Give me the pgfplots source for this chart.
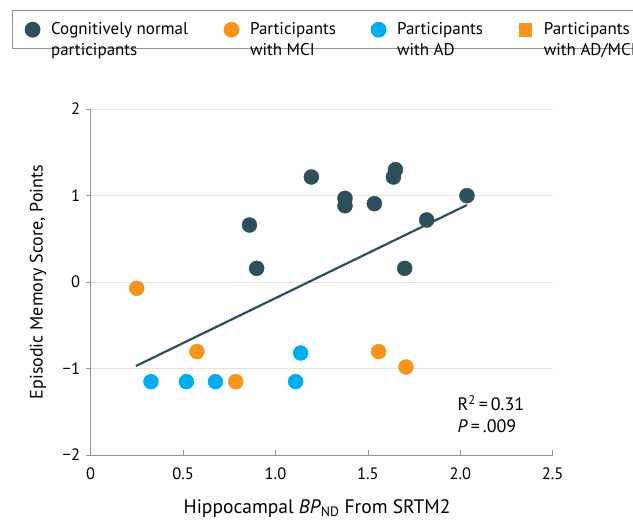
\documentclass[border=0pt]{standalone}
\usepackage{fontspec}
\setmainfont{PT Sans}
\usepackage{pgfplots}
\pgfplotsset{compat=1.18}
\usetikzlibrary{calc}
\definecolor{cn}{HTML}{2D4F5C}
\definecolor{mci}{HTML}{F7941D}
\definecolor{ad}{HTML}{00AEEF}
\begin{document}
\fontsize{16.5bp}{19bp}\selectfont
\begin{tikzpicture}
\begin{axis}[
  scale only axis,
  width=462bp, height=346bp,
  xmin=0, xmax=2.5, ymin=-2, ymax=2,
  axis lines*=left,
  axis line style={draw=gray!85, line width=0.8bp},
  xtick={0,0.5,1,1.5,2,2.5},
  xticklabels={0,0.5,1.0,1.5,2.0,2.5},
  ytick={-2,-1,0,1,2},
  yticklabels={−2,−1,0,1,2},
  tick align=outside,
  major tick length=5bp,
  tick style={draw=gray!85, line width=0.8bp},
  xtick style={yshift=5bp},
  x tick label style={yshift=-2bp},
  ymajorgrids,
  grid style={draw=gray!22, line width=0.8bp},
  xlabel={Hippocampal \textit{BP}\textsubscript{ND} From SRTM2},
  ylabel={Episodic Memory Score, Points},
  xlabel style={at={(axis description cs:0.49,-0.155)}, anchor=center, font=\fontsize{19.5bp}{22bp}\selectfont},
  ylabel style={at={(axis description cs:-0.114,0.5)}, anchor=center, font=\fontsize{18bp}{21bp}\selectfont},
  legend columns=4,
  legend image code/.code={\path (0bp,0bp) (14bp,0bp); \draw[#1] plot coordinates {(7bp,5bp)};},
  legend style={at={(-0.171,1.2852)}, anchor=north west, draw=gray!85, line width=0.8bp,
    font=\fontsize{17bp}{21bp}\selectfont,
    nodes={inner sep=0bp},
    cells={anchor=base west},
    /tikz/every odd column/.append style={column sep=11bp},
    /tikz/every even column/.append style={column sep=0bp},
    inner xsep=13bp, inner ysep=11.5bp},
]
\addplot[only marks, mark=*, mark size=7.5bp, color=cn, mark options={draw=none, fill=cn}] coordinates {
(0.859,0.659) (0.898,0.158) (1.194,1.214) (1.376,0.967) (1.376,0.882)
(1.535,0.906) (1.638,1.214) (1.649,1.299) (1.699,0.158) (1.818,0.717) (2.036,0.998)};
\addlegendentry{\parbox[t]{173bp}{Cognitively normal\\participants\rule[-12bp]{0pt}{1bp}}}
\addplot[only marks, mark=*, mark size=7.5bp, color=mci, mark options={draw=none, fill=mci}] coordinates {
(0.249,-0.073) (0.575,-0.805) (0.785,-1.152) (1.558,-0.805) (1.706,-0.983)};
\addlegendentry{\parbox[t]{121bp}{Participants\\with MCI}}
\addplot[only marks, mark=*, mark size=7.5bp, color=ad, mark options={draw=none, fill=ad}] coordinates {
(0.326,-1.152) (0.518,-1.152) (0.675,-1.152) (1.109,-1.152) (1.136,-0.821)};
\addlegendentry{\parbox[t]{121bp}{Participants\\with AD}}
\addlegendimage{only marks, mark=square*, mark size=6.3bp, color=mci, mark options={draw=none, fill=mci}}
\addlegendentry{\parbox[t]{121bp}{Participants\\with AD/MCI}}
\addplot[color=cn, line width=2.2bp, forget plot] coordinates {(0.245,-0.971) (2.036,0.890)};
\node[anchor=west, align=left, inner sep=0pt, font=\fontsize{18bp}{22bp}\selectfont] at (axis cs:1.985,-1.53) {R\textsuperscript{2}\,=\,0.31\\\textit{P}\,=\,.009};
\coordinate (O) at (rel axis cs:0,0);
\end{axis}
\pgfresetboundingbox
\useasboundingbox ($(O)+(-90.7bp,-66bp)$) rectangle ++(633bp,521bp);
\end{tikzpicture}
\end{document}
